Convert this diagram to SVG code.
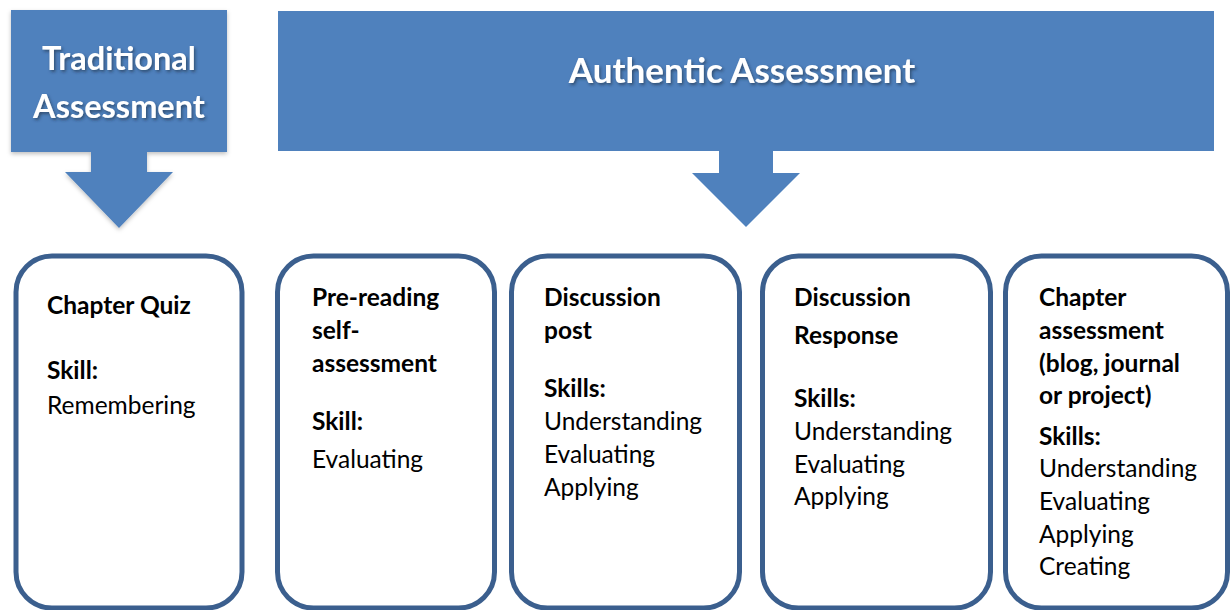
<svg xmlns="http://www.w3.org/2000/svg" width="1230" height="610" viewBox="0 0 1230 610">
  <defs>
    <filter id="txtShadow" x="-10%" y="-30%" width="120%" height="160%">
      <feDropShadow dx="1.5" dy="2" stdDeviation="1.5" flood-color="#1a2a40" flood-opacity="0.6"/>
    </filter>
    <filter id="boxShadow" x="-10%" y="-10%" width="120%" height="130%">
      <feDropShadow dx="0" dy="2" stdDeviation="2" flood-color="#000" flood-opacity="0.25"/>
    </filter>
  </defs>
  <style>
    .callout { fill: #4F81BD; }
    .card { fill: #FFFFFF; stroke: #3B5F8E; stroke-width: 5; }
    .head { font-family: Lato, "Liberation Sans", sans-serif; font-weight: bold; fill: #FFFFFF; text-anchor: middle; filter: url(#txtShadow); }
    .t { font-family: Lato, "Liberation Sans", sans-serif; font-size: 24.5px; fill: #000000; }
    .b { font-weight: bold; }
  </style>
  <rect width="1230" height="610" fill="#FFFFFF"/>

  <g id="traditional">
    <path class="callout" filter="url(#boxShadow)" d="M11,10 H227 V152 H147 V172 H173 L119,228 L65,172 H91 V152 H11 Z"/>
    <text class="head" x="119" y="70" font-size="32.5">Traditional</text>
    <text class="head" x="119" y="118" font-size="32.5">Assessment</text>
  </g>

  <g id="authentic">
    <path class="callout" d="M278,11 H1214 V151 H773 V173 H800 L746,227 L692,173 H719 V151 H278 Z"/>
    <text class="head" x="742" y="83" font-size="35">Authentic Assessment</text>
  </g>

  <g id="connectors"></g>

  <g id="card-quiz">
    <rect class="card" x="16" y="256" width="226" height="352" rx="36"/>
    <text class="t b" x="47" y="314">Chapter Quiz</text>
    <text class="t b" x="47" y="379">Skill:</text>
    <text class="t" x="47" y="414">Remembering</text>
  </g>

  <g id="card-prereading">
    <rect class="card" x="277.5" y="256" width="217" height="352" rx="36"/>
    <text class="t b" x="312" y="306">Pre-reading</text>
    <text class="t b" x="312" y="339">self-</text>
    <text class="t b" x="312" y="372">assessment</text>
    <text class="t b" x="312" y="430">Skill:</text>
    <text class="t" x="312" y="468">Evaluating</text>
  </g>

  <g id="card-post">
    <rect class="card" x="511.5" y="256" width="228" height="352" rx="36"/>
    <text class="t b" x="544" y="306">Discussion</text>
    <text class="t b" x="544" y="339">post</text>
    <text class="t b" x="544" y="397">Skills:</text>
    <text class="t" x="544" y="430">Understanding</text>
    <text class="t" x="544" y="463">Evaluating</text>
    <text class="t" x="544" y="496">Applying</text>
  </g>

  <g id="card-response">
    <rect class="card" x="762.5" y="256" width="228" height="352" rx="36"/>
    <text class="t b" x="794" y="306">Discussion</text>
    <text class="t b" x="794" y="344">Response</text>
    <text class="t b" x="794" y="407">Skills:</text>
    <text class="t" x="794" y="440">Understanding</text>
    <text class="t" x="794" y="473">Evaluating</text>
    <text class="t" x="794" y="505">Applying</text>
  </g>

  <g id="card-chapter">
    <rect class="card" x="1005.5" y="256" width="222" height="352" rx="36"/>
    <text class="t b" x="1039" y="306">Chapter</text>
    <text class="t b" x="1039" y="339">assessment</text>
    <text class="t b" x="1039" y="372">(blog, journal</text>
    <text class="t b" x="1039" y="404">or project)</text>
    <text class="t b" x="1039" y="445">Skills:</text>
    <text class="t" x="1039" y="477">Understanding</text>
    <text class="t" x="1039" y="510">Evaluating</text>
    <text class="t" x="1039" y="543">Applying</text>
    <text class="t" x="1039" y="575">Creating</text>
  </g>
</svg>
